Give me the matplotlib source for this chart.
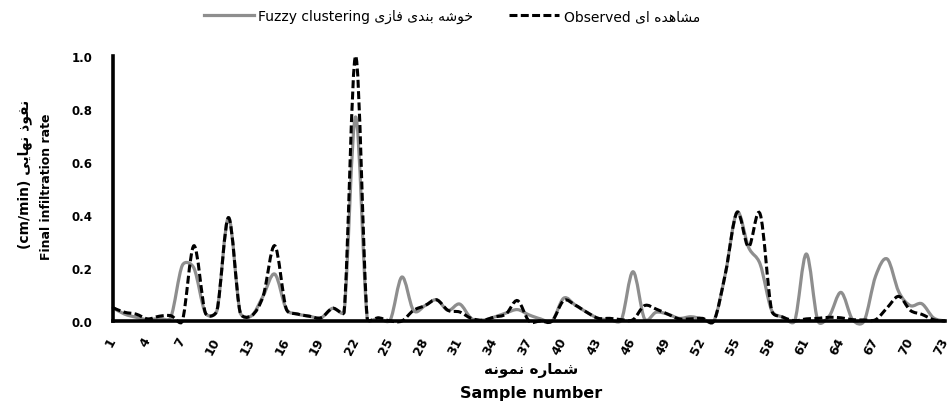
import numpy as np
import matplotlib
matplotlib.use("Agg")
import matplotlib.pyplot as plt
from matplotlib.path import Path
from matplotlib.patches import PathPatch
from matplotlib.lines import Line2D

# ---------------- data ----------------
samples = list(range(1, 74))
observed = [0.05, 0.033, 0.026, 0.008, 0.018, 0.02, 0.0, 0.284, 0.03, 0.04,
            0.39, 0.033, 0.02, 0.095, 0.284, 0.045, 0.026, 0.018, 0.012, 0.048,
            0.035, 1.0, 0.01, 0.012, 0.0, 0.0, 0.04, 0.058, 0.08, 0.04,
            0.034, 0.01, 0.003, 0.015, 0.026, 0.077, 0.0, 0.0, 0.0, 0.077,
            0.06, 0.033, 0.01, 0.01, 0.005, 0.005, 0.058, 0.045, 0.026, 0.008,
            0.008, 0.01, 0.0, 0.18, 0.41, 0.28, 0.404, 0.04, 0.014, 0.001,
            0.008, 0.01, 0.014, 0.012, 0.005, 0.004, 0.005, 0.05, 0.093, 0.04,
            0.025, 0.005, 0.0]
fuzzy = [0.05, 0.026, 0.014, 0.005, 0.01, 0.014, 0.21, 0.2, 0.03, 0.04,
         0.39, 0.033, 0.02, 0.095, 0.177, 0.045, 0.026, 0.018, 0.012, 0.048,
         0.035, 0.77, 0.01, 0.01, 0.005, 0.166, 0.04, 0.058, 0.08, 0.04,
         0.064, 0.01, 0.003, 0.015, 0.03, 0.043, 0.023, 0.008, 0.0, 0.086,
         0.06, 0.033, 0.01, 0.005, 0.005, 0.186, 0.008, 0.033, 0.026, 0.01,
         0.016, 0.008, 0.0, 0.18, 0.41, 0.278, 0.215, 0.04, 0.014, 0.001,
         0.253, 0.0, 0.02, 0.108, 0.005, 0.0, 0.17, 0.234, 0.11, 0.058,
         0.065, 0.012, 0.0]
xtick_values = list(range(1, 74, 3))
ytick_values = [0.0, 0.2, 0.4, 0.6, 0.8, 1.0]

legend_fuzzy_en = "Fuzzy clustering"
legend_fuzzy_fa = "خوشه بندی فازی"
legend_obs_en = "Observed"
legend_obs_fa = "مشاهده ای"
xlabel_fa = "شماره نمونه"
xlabel_en = "Sample number"
ylabel_fa = "نفوذ نهایی"
ylabel_unit = "(cm/min)"
ylabel_en = "Final infiltration rate"

# ---------------- Persian shaping (presentation forms, visual order) ----------------
RIGHT_ONLY = set("اآدذرزژو")
FORMS = {
    "ا": ("\uFE8D", "\uFE8E", None, None),
    "ب": ("\uFE8F", "\uFE90", "\uFE91", "\uFE92"),
    "خ": ("\uFEA5", "\uFEA6", "\uFEA7", "\uFEA8"),
    "د": ("\uFEA9", "\uFEAA", None, None),
    "ذ": ("\uFEAB", "\uFEAC", None, None),
    "ر": ("\uFEAD", "\uFEAE", None, None),
    "ز": ("\uFEAF", "\uFEB0", None, None),
    "ش": ("\uFEB5", "\uFEB6", "\uFEB7", "\uFEB8"),
    "ف": ("\uFED1", "\uFED2", "\uFED3", "\uFED4"),
    "م": ("\uFEE1", "\uFEE2", "\uFEE3", "\uFEE4"),
    "ن": ("\uFEE5", "\uFEE6", "\uFEE7", "\uFEE8"),
    "ه": ("\uFEE9", "\uFEEA", "\uFEEB", "\uFEEC"),
    "و": ("\uFEED", "\uFEEE", None, None),
    "ی": ("\uFBFC", "\uFBFD", "\uFBFE", "\uFBFF"),
}


def fa(s):
    out = []
    for i, c in enumerate(s):
        if c not in FORMS:
            out.append(c)
            continue
        prev = s[i - 1] if i > 0 else ""
        nxt = s[i + 1] if i + 1 < len(s) else ""
        jp = prev in FORMS and prev not in RIGHT_ONLY
        jn = nxt in FORMS and c not in RIGHT_ONLY
        f = FORMS[c]
        if jp and jn:
            g = f[3]
        elif jp:
            g = f[1]
        elif jn:
            g = f[2]
        else:
            g = f[0]
        out.append(g)
    return "".join(reversed(out))


def smooth_path(ax, xs, ys, k=0.5):
    """Smoothed line: Catmull-Rom Bezier handles computed in display space,
    each handle clamped to k * current segment length, mapped back to data."""
    P = ax.transData.transform(np.column_stack([xs, ys]).astype(float))
    n = len(P)

    def clamp(v, lim):
        d = np.hypot(*v)
        return v * (lim / d) if d > lim else v

    verts = [P[0]]
    codes = [Path.MOVETO]
    for i in range(n - 1):
        p0 = P[i - 1] if i > 0 else P[i]
        p1 = P[i]
        p2 = P[i + 1]
        p3 = P[i + 2] if i + 2 < n else P[i + 1]
        L = np.hypot(*(p2 - p1))
        c1 = p1 + clamp((p2 - p0) / 6.0, k * L)
        c2 = p2 - clamp((p3 - p1) / 6.0, k * L)
        verts += [c1, c2, p2]
        codes += [Path.CURVE4] * 3
    verts = ax.transData.inverted().transform(np.array(verts))
    return Path(verts, codes)


plt.rcParams["font.family"] = ["DejaVu Sans"]

fig = plt.figure(figsize=(9.5, 4.06), dpi=100)
ax = fig.add_axes([113 / 950, 1 - 322 / 406, (945 - 113) / 950, (322 - 57) / 406])
ax.set_xlim(1, 73)
ax.set_ylim(0, 1.0)

gray = "#8e8e8e"
dash = (0, (2.6, 1.1))
p_f = PathPatch(smooth_path(ax, samples, fuzzy), fill=False, edgecolor=gray, lw=2.3,
                capstyle="round", joinstyle="round", clip_on=False, zorder=2)
ax.add_patch(p_f)
p_o = PathPatch(smooth_path(ax, samples, observed), fill=False, edgecolor="black", lw=2.2,
                linestyle=dash, clip_on=False, zorder=3)
ax.add_patch(p_o)

ax.set_xticks(xtick_values)
ax.set_xticklabels([str(v) for v in xtick_values], rotation=62, rotation_mode="anchor",
                   ha="right", va="center", fontsize=9, fontweight="bold")
ax.set_yticks(ytick_values)
ax.set_yticklabels([f"{v:.1f}" for v in ytick_values], fontsize=8.5, fontweight="bold")
ax.tick_params(axis="both", length=0)
ax.tick_params(axis="y", pad=15)
ax.tick_params(axis="x", pad=12)
for s in ["top", "right"]:
    ax.spines[s].set_visible(False)
for s in ["left", "bottom"]:
    ax.spines[s].set_linewidth(2.6)
    ax.spines[s].set_color("black")
    ax.spines[s].set_zorder(4)

# axis titles
fig.text(531 / 950, 1 - 371 / 406, fa(xlabel_fa), ha="center", va="center",
         fontsize=11, fontweight="bold")
fig.text(531 / 950, 1 - 394 / 406, xlabel_en, ha="center", va="center",
         fontsize=11.5, fontweight="bold")
fig.text(25 / 950, 1 - 174 / 406, ylabel_unit + " " + fa(ylabel_fa), rotation=90,
         ha="center", va="center", fontsize=10, fontweight="bold")
fig.text(47 / 950, 1 - 187 / 406, ylabel_en, rotation=90, ha="center", va="center",
         fontsize=9, fontweight="bold")

handles = [Line2D([], [], color=gray, lw=2.3),
           Line2D([], [], color="black", lw=2.2, linestyle=dash)]
labels = [legend_fuzzy_en + " " + fa(legend_fuzzy_fa),
          legend_obs_en + " " + fa(legend_obs_fa)]
fig.legend(handles, labels, loc="center", bbox_to_anchor=(452 / 950, 1 - 17 / 406),
           ncol=2, frameon=False, fontsize=10, handlelength=3.6, handletextpad=0.3,
           columnspacing=2.6)

fig.savefig("out.png", dpi=100)
